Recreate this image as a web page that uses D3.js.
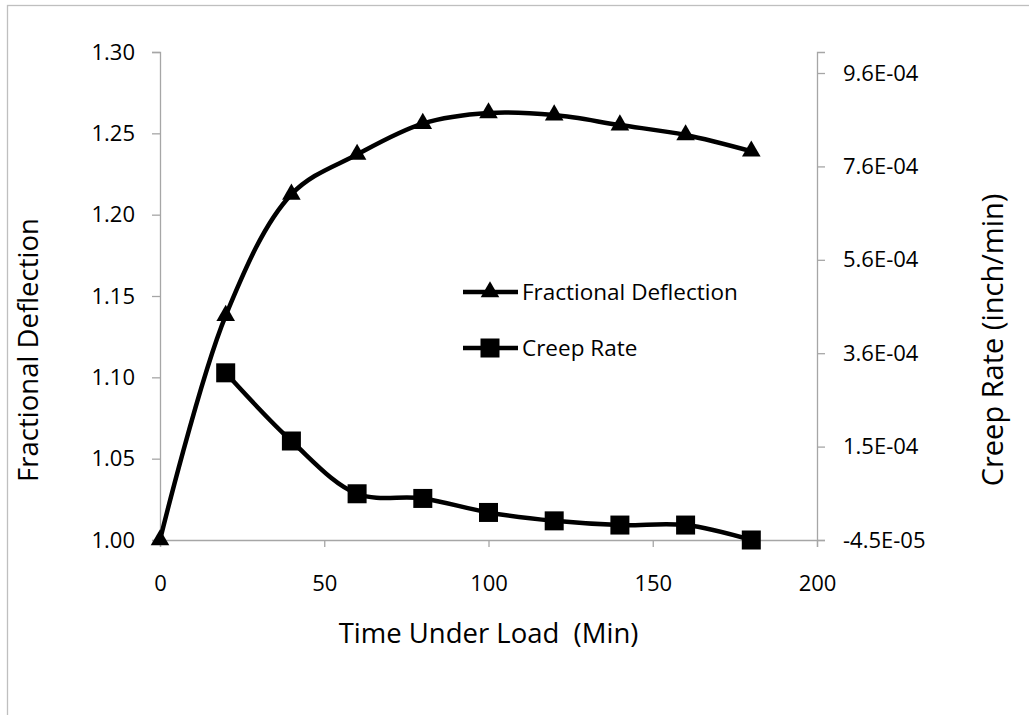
<!DOCTYPE html>
<html>
<head>
<meta charset="utf-8">
<script src="https://cdn.jsdelivr.net/npm/d3@7"></script>
<style>
  html, body { margin: 0; padding: 0; background: #fff; }
  svg { display: block; }
  text { font-family: "Open Sans", Lato, sans-serif; fill: #000; }
</style>
</head>
<body>
<svg id="chart" width="1029" height="715"></svg>
<script>
// Time under load (min)
const times = [0, 20, 40, 60, 80, 100, 120, 140, 160, 180];
// Fractional deflection (left axis)
const deflection = [1.000, 1.138, 1.2125, 1.237, 1.256, 1.2625, 1.2612, 1.2551, 1.249, 1.239];
// Creep rate in inch/min (right axis); no rate at t = 0
const creepTimes = [20, 40, 60, 80, 100, 120, 140, 160, 180];
const creepRate = [3.13e-4, 1.67e-4, 5.4e-5, 4.4e-5, 1.4e-5, -4e-6, -1.3e-5, -1.3e-5, -4.5e-5];

// Axis ticks
const xTicks = [0, 50, 100, 150, 200];
const leftTicks = [1.00, 1.05, 1.10, 1.15, 1.20, 1.25, 1.30];
const rightTicks = [-4.5e-5, 1.55e-4, 3.55e-4, 5.55e-4, 7.55e-4, 9.55e-4];
const rightTickLabels = ["-4.5E-05", "1.5E-04", "3.6E-04", "5.6E-04", "7.6E-04", "9.6E-04"];

const svg = d3.select("#chart");
const axisColor = "#a6a6a6";

// chart area frame
svg.append("rect")
  .attr("x", 7.5).attr("y", 5.5)
  .attr("width", 1040).attr("height", 720)
  .attr("fill", "none").attr("stroke", "#bfbfbf").attr("stroke-width", 1.3);

const plot = { left: 160, right: 817, top: 52, bottom: 540 };

const x = d3.scaleLinear().domain([0, 200]).range([plot.left, plot.right]);
const yL = d3.scaleLinear().domain([1.0, 1.3]).range([plot.bottom, plot.top]);
const yR = d3.scaleLinear().domain([-4.5e-5, 1.0e-3]).range([plot.bottom, plot.top]);

function styleAxis(g) {
  g.select(".domain").attr("stroke", axisColor).attr("stroke-width", 1.3);
  g.selectAll(".tick line").attr("stroke", axisColor).attr("stroke-width", 1.3);
  g.selectAll(".tick text").style("font-size", "22px").attr("fill", "#000");
}

// left axis
svg.append("g")
  .attr("transform", `translate(${plot.left},0)`)
  .call(d3.axisLeft(yL).tickValues(leftTicks).tickFormat(d3.format(".2f")).tickSizeOuter(0).tickSize(8).tickPadding(17))
  .call(styleAxis);

// right axis
svg.append("g")
  .attr("transform", `translate(${plot.right},0)`)
  .call(d3.axisRight(yR).tickValues(rightTicks)
    .tickFormat((d, i) => rightTickLabels[i]).tickSizeOuter(0).tickSize(8).tickPadding(18))
  .call(styleAxis);

// bottom axis
svg.append("g")
  .attr("transform", `translate(0,${plot.bottom})`)
  .call(d3.axisBottom(x).tickValues(xTicks).tickSizeOuter(0).tickSize(7).tickPadding(28))
  .call(styleAxis);

// axis titles
svg.append("text")
  .attr("x", (plot.left + plot.right) / 2).attr("y", 643)
  .attr("text-anchor", "middle")
  .style("font-size", "27.5px")
  .attr("xml:space", "preserve")
  .text("Time Under Load  (Min)");

svg.append("text")
  .attr("transform", "translate(38,350) rotate(-90)")
  .attr("text-anchor", "middle")
  .style("font-size", "27.5px")
  .text("Fractional Deflection");

svg.append("text")
  .attr("transform", "translate(1003,340) rotate(-90)")
  .attr("text-anchor", "middle")
  .style("font-size", "29px")
  .text("Creep Rate (inch/min)");

const smooth = d3.curveCatmullRom.alpha(0.5);

// Fractional deflection line + triangles
const defData = times.map((t, i) => ({ t, v: deflection[i] }));
svg.append("path")
  .datum(defData)
  .attr("fill", "none").attr("stroke", "#000").attr("stroke-width", 4.5)
  .attr("stroke-linejoin", "round")
  .attr("d", d3.line().x(d => x(d.t)).y(d => yL(d.v)).curve(smooth));

const tri = d3.symbol().type(d3.symbolTriangle).size(150);
svg.selectAll(".tri").data(defData).join("path")
  .attr("class", "tri")
  .attr("transform", d => `translate(${x(d.t)},${yL(d.v)})`)
  .attr("d", tri).attr("fill", "#000");

// Creep rate line + squares
const creepData = creepTimes.map((t, i) => ({ t, v: creepRate[i] }));
svg.append("path")
  .datum(creepData)
  .attr("fill", "none").attr("stroke", "#000").attr("stroke-width", 4.5)
  .attr("stroke-linejoin", "round")
  .attr("d", d3.line().x(d => x(d.t)).y(d => yR(d.v)).curve(smooth));

const sq = 19;
svg.selectAll(".sq").data(creepData).join("rect")
  .attr("class", "sq")
  .attr("x", d => x(d.t) - sq / 2).attr("y", d => yR(d.v) - sq / 2)
  .attr("width", sq).attr("height", sq).attr("fill", "#000");

// legend
const legend = svg.append("g");
const legendItems = [
  { label: "Fractional Deflection", y: 292, marker: "tri" },
  { label: "Creep Rate", y: 348, marker: "sq" }
];
legendItems.forEach(item => {
  legend.append("line")
    .attr("x1", 463).attr("x2", 518).attr("y1", item.y).attr("y2", item.y)
    .attr("stroke", "#000").attr("stroke-width", 4.5);
  if (item.marker === "tri") {
    legend.append("path").attr("transform", `translate(490,${item.y})`).attr("d", tri).attr("fill", "#000");
  } else {
    legend.append("rect").attr("x", 490 - sq / 2).attr("y", item.y - sq / 2)
      .attr("width", sq).attr("height", sq).attr("fill", "#000");
  }
  legend.append("text")
    .attr("x", 522).attr("y", item.y).attr("dy", "0.36em")
    .style("font-size", "22.5px")
    .text(item.label);
});
</script>
</body>
</html>
